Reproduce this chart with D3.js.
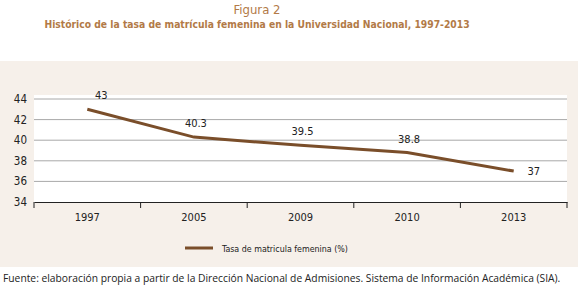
<!DOCTYPE html>
<html>
<head>
<meta charset="utf-8">
<script src="https://cdn.jsdelivr.net/npm/d3@7"></script>
<style>
  body { margin: 0; background: #fff; }
  text { font-family: "Liberation Sans Narrow", "DejaVu Sans Condensed", Lato, sans-serif; }
</style>
</head>
<body>
<div id="chart"></div>
<script>
// data
const years = ["1997", "2005", "2009", "2010", "2013"];
const tasa = [43, 40.3, 39.5, 38.8, 37];
const yTicks = [34, 36, 38, 40, 42, 44];
const seriesName = "Tasa de matricula femenina (%)";

const W = 580, H = 287;
const margin = { top: 99, right: 13, bottom: 85, left: 34 };
const width = W - margin.left - margin.right;
const height = H - margin.top - margin.bottom;

const svg = d3.select("#chart").append("svg")
    .attr("width", W)
    .attr("height", H);

// shrink a text's font size so it spans about the wanted width
function fitWidth(sel, target, size) {
    sel.style("font-size", size + "px");
    let w = sel.node().getComputedTextLength();
    if (w > 0) sel.style("font-size", (size * target / w).toFixed(2) + "px");
}

// beige panel
svg.append("rect")
    .attr("x", 0).attr("y", 61)
    .attr("width", 578).attr("height", 206)
    .attr("fill", "#f6f0ea");

// titles
svg.append("text")
    .attr("x", 257).attr("y", 14)
    .attr("text-anchor", "middle")
    .attr("fill", "#b27a47")
    .style("font-size", "13px")
    .text("Figura 2");

let title = svg.append("text")
    .attr("x", 257).attr("y", 28)
    .attr("text-anchor", "middle")
    .attr("fill", "#b27a47")
    .style("font-weight", "bold")
    .text("Histórico de la tasa de matrícula femenina en la Universidad Nacional, 1997-2013");
fitWidth(title, 425, 13);

const g = svg.append("g")
    .attr("transform", "translate(" + margin.left + "," + margin.top + ")");

let x = d3.scaleBand()
    .domain(years)
    .range([0, width]);

let y = d3.scaleLinear()
    .domain([34, 44])
    .range([height, 0]);

// white plot area
g.append("rect")
    .attr("x", 0).attr("y", -4)
    .attr("width", width).attr("height", height + 4)
    .attr("fill", "#fff");

// gridlines
g.selectAll(".grid")
    .data(yTicks.filter(d => d > 34))
    .join("line")
    .attr("class", "grid")
    .attr("x1", 0).attr("x2", width)
    .attr("y1", d => y(d)).attr("y2", d => y(d))
    .attr("stroke", "#a8a8a8")
    .attr("stroke-width", 1);

// y labels
g.selectAll(".ylab")
    .data(yTicks)
    .join("text")
    .attr("class", "ylab")
    .attr("x", -7)
    .attr("y", d => y(d))
    .attr("dy", "0.35em")
    .attr("text-anchor", "end")
    .attr("fill", "#222")
    .style("font-size", "11.5px")
    .text(d => d);

// x axis
let xAxis = g.append("g")
    .attr("transform", "translate(0," + height + ")")
    .call(d3.axisBottom(x).tickSize(0).tickPadding(11));
xAxis.select(".domain").attr("stroke", "#222");
xAxis.selectAll("text")
    .attr("fill", "#222")
    .style("font-size", "11px")
    .style("font-family", "'Liberation Sans Narrow', 'DejaVu Sans Condensed', Lato, sans-serif");

// category boundary ticks
let edges = years.map(d => x(d)).concat([width]);
g.selectAll(".edge")
    .data(edges)
    .join("line")
    .attr("class", "edge")
    .attr("x1", d => d).attr("x2", d => d)
    .attr("y1", height).attr("y2", height + 6)
    .attr("stroke", "#222");

// line
let line = d3.line()
    .x((d, i) => x(years[i]) + x.bandwidth() / 2)
    .y(d => y(d));

g.append("path")
    .datum(tasa)
    .attr("d", line)
    .attr("fill", "none")
    .attr("stroke", "#7a4e2a")
    .attr("stroke-width", 3);

// value labels
g.selectAll(".vlab")
    .data(tasa)
    .join("text")
    .attr("class", "vlab")
    .attr("x", (d, i) => x(years[i]) + x.bandwidth() / 2 + (i === 0 ? 14 : i === tasa.length - 1 ? 20 : 2))
    .attr("y", (d, i) => y(d) + (i === tasa.length - 1 ? 4 : -10))
    .attr("text-anchor", "middle")
    .attr("fill", "#222")
    .style("font-size", "11px")
    .text(d => d);

// legend
let legend = svg.append("g")
    .attr("transform", "translate(185,248)");
legend.append("line")
    .attr("x1", 0).attr("x2", 28)
    .attr("stroke", "#7a4e2a")
    .attr("stroke-width", 3);
let legText = legend.append("text")
    .attr("x", 37).attr("y", 4)
    .attr("fill", "#222")
    .text(seriesName);
fitWidth(legText, 126, 11);

// source
let source = svg.append("text")
    .attr("x", 3).attr("y", 282)
    .attr("fill", "#222")
    .style("font-family", "'Open Sans', sans-serif")
    .text("Fuente: elaboración propia a partir de la Dirección Nacional de Admisiones. Sistema de Información Académica (SIA).");
fitWidth(source, 558, 11);
</script>
</body>
</html>
